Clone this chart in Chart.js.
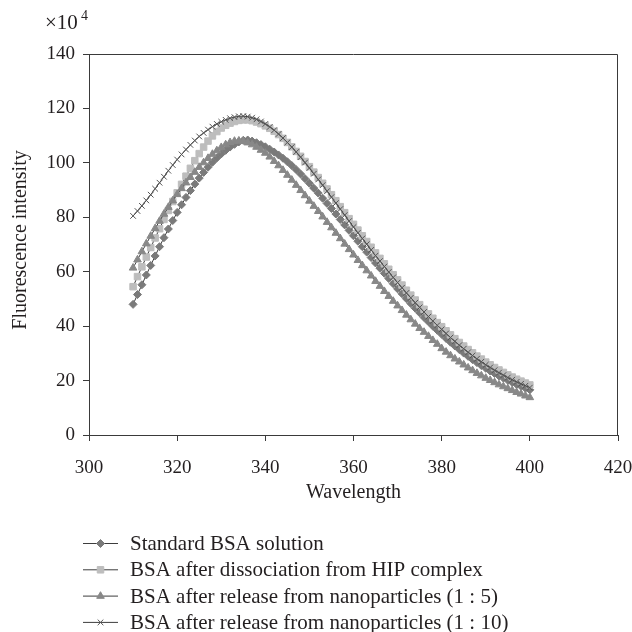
<!DOCTYPE html>
<html>
<head>
<meta charset="utf-8">
<script src="https://cdn.jsdelivr.net/npm/chart.js@4.4.0/dist/chart.umd.min.js"></script>
<style>
html, body { margin: 0; padding: 0; background: #fff; }
</style>
</head>
<body>
<canvas id="myChart" width="632" height="632"></canvas>
<script>
// wavelength (nm), one reading per nm
const wavelengths = [310, 311, 312, 313, 314, 315, 316, 317, 318, 319, 320, 321, 322, 323, 324, 325, 326, 327, 328, 329,
  330, 331, 332, 333, 334, 335, 336, 337, 338, 339, 340, 341, 342, 343, 344, 345, 346, 347, 348, 349,
  350, 351, 352, 353, 354, 355, 356, 357, 358, 359, 360, 361, 362, 363, 364, 365, 366, 367, 368, 369,
  370, 371, 372, 373, 374, 375, 376, 377, 378, 379, 380, 381, 382, 383, 384, 385, 386, 387, 388, 389,
  390, 391, 392, 393, 394, 395, 396, 397, 398, 399, 400];

// fluorescence intensity (x10^4)
const standardBSA = [48.0, 51.6, 55.2, 58.8, 62.3, 65.8, 69.2, 72.5, 75.7, 78.8, 81.8, 84.6, 87.3, 89.8, 92.2, 94.4, 96.5, 98.4, 100.2, 101.8,
  103.3, 104.6, 105.8, 106.8, 107.7, 108.3, 108.4, 108.0, 107.4, 106.7, 105.9, 105.0, 104.0, 102.9, 101.7, 100.4, 99.0, 97.5, 95.9, 94.2,
  92.5, 90.7, 88.9, 87.0, 85.1, 83.2, 81.2, 79.2, 77.2, 75.2, 73.2, 71.2, 69.2, 67.2, 65.2, 63.2, 61.3, 59.4, 57.5, 55.6,
  53.7, 51.9, 50.1, 48.3, 46.6, 44.9, 43.2, 41.6, 40.0, 38.5, 37.0, 35.5, 34.1, 32.7, 31.4, 30.1, 28.9, 27.7, 26.6, 25.5,
  24.5, 23.5, 22.6, 21.7, 20.9, 20.1, 19.3, 18.6, 17.9, 17.2, 16.6];

const hipBSA = [54.5, 58.2, 61.8, 65.4, 68.9, 72.4, 75.8, 79.2, 82.5, 85.8, 89.0, 92.1, 95.1, 98.0, 100.8, 103.4, 105.8, 108.0, 109.9, 111.5,
  112.8, 113.8, 114.6, 115.2, 115.6, 115.8, 115.8, 115.5, 115.0, 114.4, 113.6, 112.7, 111.6, 110.4, 109.0, 107.5, 105.9, 104.2, 102.4, 100.5,
  98.6, 96.6, 94.6, 92.5, 90.4, 88.3, 86.1, 83.9, 81.7, 79.5, 77.4, 75.3, 73.2, 71.1, 69.0, 66.9, 64.9, 62.9, 60.9, 58.9,
  57.0, 55.1, 53.2, 51.4, 49.6, 47.9, 46.2, 44.5, 42.9, 41.3, 39.8, 38.3, 36.8, 35.4, 34.0, 32.7, 31.4, 30.2, 29.0, 27.9,
  26.8, 25.8, 24.8, 23.9, 23.0, 22.1, 21.3, 20.5, 19.8, 19.1, 18.4];

const nano15 = [61.4, 64.4, 67.4, 70.3, 73.1, 75.9, 78.6, 81.2, 83.7, 86.1, 88.4, 90.6, 92.7, 94.7, 96.6, 98.4, 100.1, 101.7, 103.2, 104.5,
  105.7, 106.7, 107.5, 108.0, 108.1, 107.9, 107.4, 106.7, 105.8, 104.7, 103.6, 102.2, 100.6, 99.0, 97.3, 95.5, 93.7, 91.8, 89.9, 88.0,
  86.0, 84.1, 82.2, 80.2, 78.2, 76.2, 74.2, 72.2, 70.2, 68.2, 66.2, 64.2, 62.3, 60.4, 58.5, 56.5, 54.7, 52.8, 51.0, 49.2,
  47.5, 45.8, 44.1, 42.4, 40.8, 39.2, 37.8, 36.3, 34.8, 33.4, 31.8, 30.5, 29.2, 28.0, 26.9, 25.8, 24.7, 23.7, 22.7, 21.8,
  20.9, 20.1, 19.3, 18.5, 17.8, 17.1, 16.4, 15.7, 15.1, 14.4, 13.8];

const nano110 = [80.5, 82.3, 84.2, 86.2, 88.3, 90.5, 92.7, 94.9, 97.1, 99.2, 101.2, 103.1, 104.9, 106.6, 108.2, 109.7, 111.0, 112.2, 113.3, 114.3,
  115.1, 115.8, 116.4, 116.8, 117.1, 117.2, 117.0, 116.6, 116.0, 115.2, 114.3, 113.2, 112.0, 110.6, 109.1, 107.5, 105.8, 104.0, 102.1, 100.1,
  98.1, 96.0, 93.9, 91.8, 89.6, 87.4, 85.2, 83.0, 80.8, 78.6, 76.4, 74.3, 72.2, 70.1, 68.0, 65.9, 63.9, 61.9, 59.9, 57.9,
  56.0, 54.1, 52.2, 50.4, 48.6, 46.9, 45.2, 43.5, 41.9, 40.3, 38.8, 37.3, 35.8, 34.4, 33.0, 31.7, 30.4, 29.2, 28.0, 26.9,
  25.8, 24.8, 23.8, 22.9, 22.0, 21.1, 20.3, 19.5, 18.8, 18.1, 17.4];

const seriesNames = [
  'Standard BSA solution',
  'BSA after dissociation from HIP complex',
  'BSA after release from nanoparticles (1 : 5)',
  'BSA after release from nanoparticles (1 : 10)'
];

const xMin = 300, xMax = 420, xStep = 20;
const yMin = 0, yMax = 140, yStep = 20;

const serif = '"Liberation Serif", "DejaVu Serif", serif';
const txt = '#231f20';

function pts(values) {
  return wavelengths.map((w, i) => ({ x: w, y: values[i] }));
}

function series(label, values, style, radius, fill, border, order) {
  return {
    label: label,
    data: pts(values),
    borderColor: '#3d3d3d',
    borderWidth: 1,
    pointStyle: style,
    pointRadius: radius,
    pointHoverRadius: radius,
    pointBackgroundColor: fill,
    pointBorderColor: border,
    pointBorderWidth: 1,
    tension: 0,
    order: order
  };
}

// frame round the plot, top and right sides
const frame = {
  id: 'frame',
  afterDraw(chart) {
    const a = chart.chartArea, ctx = chart.ctx;
    ctx.save();
    ctx.strokeStyle = '#3a3a3a';
    ctx.lineWidth = 1;
    ctx.beginPath();
    ctx.moveTo(Math.round(a.left) + 0.5, Math.round(a.top) + 0.5);
    ctx.lineTo(Math.round(a.right) - 0.5, Math.round(a.top) + 0.5);
    ctx.lineTo(Math.round(a.right) - 0.5, Math.round(a.bottom) + 0.5);
    ctx.stroke();
    ctx.restore();
  }
};

// y title, the x10^4 factor and the legend rows
const extras = {
  id: 'extras',
  afterDraw(chart) {
    const ctx = chart.ctx;
    ctx.save();
    ctx.fillStyle = txt;
    ctx.textBaseline = 'middle';

    ctx.save();
    ctx.translate(21, 240);
    ctx.rotate(-Math.PI / 2);
    ctx.textAlign = 'center';
    ctx.font = '20px ' + serif;
    ctx.fillText('Fluorescence intensity', 0, 0);
    ctx.restore();

    ctx.textAlign = 'left';
    ctx.font = '21px ' + serif;
    ctx.fillText('\u00d710', 45, 23);
    ctx.font = '14px ' + serif;
    ctx.fillText('4', 81, 16);

    chart.data.datasets.forEach((ds, i) => {
      const y = 543.5 + i * 26.3;
      ctx.strokeStyle = ds.borderColor;
      ctx.lineWidth = 1;
      ctx.beginPath();
      ctx.moveTo(83, y);
      ctx.lineTo(118, y);
      ctx.stroke();
      ctx.fillStyle = ds.pointBackgroundColor;
      ctx.strokeStyle = ds.pointBorderColor;
      ctx.lineWidth = ds.pointBorderWidth;
      Chart.helpers.drawPoint(ctx, { pointStyle: ds.pointStyle, radius: ds.pointRadius, borderWidth: ds.pointBorderWidth }, 100.5, y);
      ctx.fillStyle = txt;
      ctx.font = '21px ' + serif;
      ctx.fillText(ds.label, 130, y + 1);
    });
    ctx.restore();
  }
};

const ctx = document.getElementById('myChart').getContext('2d');

new Chart(ctx, {
  type: 'line',
  data: {
    datasets: [
      series(seriesNames[0], standardBSA, 'rectRot', 4, '#7a7a7a', '#7a7a7a', 4),
      series(seriesNames[1], hipBSA, 'rect', 4.6, '#bdbdbd', '#bdbdbd', 3),
      series(seriesNames[2], nano15, 'triangle', 4.4, '#888888', '#888888', 2),
      series(seriesNames[3], nano110, 'crossRot', 4, '#555555', '#555555', 1)
    ]
  },
  options: {
    responsive: false,
    animation: false,
    events: [],
    layout: { padding: { top: 54, right: 0, bottom: 127, left: 0 } },
    plugins: {
      legend: { display: false },
      tooltip: { enabled: false }
    },
    scales: {
      x: {
        type: 'linear',
        min: xMin,
        max: xMax,
        afterFit: (s) => { s.height = 70; s.paddingLeft = 0; s.paddingRight = 14; },
        ticks: {
          stepSize: xStep,
          padding: 16,
          color: txt,
          font: { family: serif, size: 19 }
        },
        grid: { drawOnChartArea: false, drawTicks: true, tickLength: 6, color: '#3a3a3a' },
        border: { color: '#3a3a3a' },
        title: {
          display: true,
          text: 'Wavelength',
          color: txt,
          font: { family: serif, size: 20 },
          padding: 0
        }
      },
      y: {
        min: yMin,
        max: yMax,
        afterFit: (s) => { s.width = 89; s.paddingTop = 0; s.paddingBottom = 0; },
        ticks: {
          stepSize: yStep,
          padding: 8,
          color: txt,
          font: { family: serif, size: 19 }
        },
        grid: { drawOnChartArea: false, drawTicks: true, tickLength: 6, color: '#3a3a3a' },
        border: { color: '#3a3a3a' }
      }
    }
  },
  plugins: [frame, extras]
});
</script>
</body>
</html>
